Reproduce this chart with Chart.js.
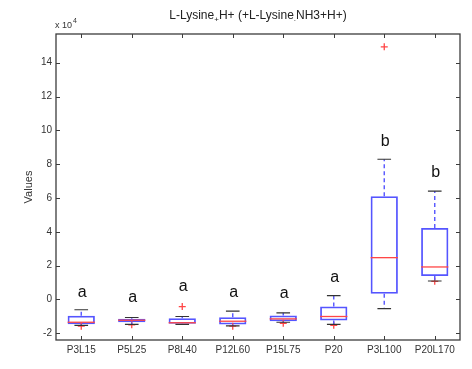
<!DOCTYPE html>
<html>
<head>
<meta charset="utf-8">
<script src="https://cdn.jsdelivr.net/npm/chart.js@4/dist/chart.umd.min.js"></script>
<style>
    html, body { margin: 0; padding: 0; background: #fff; }
    canvas { display: block; }
</style>
</head>
<body>
<canvas id="myBoxChart" width="472" height="369"></canvas>
<script>
// all values in units of 10^4
const groups = ['P3L15', 'P5L25', 'P8L40', 'P12L60', 'P15L75', 'P20', 'P3L100', 'P20L170'];
const whiskerLow  = [-1.54, -1.48, -1.48, -1.56, -1.35, -1.48, -0.55, 1.09];
const q1          = [-1.47, -1.35, -1.44, -1.48, -1.29, -1.25, 0.34, 1.38];
const median      = [-1.35, -1.23, -1.38, -1.29, -1.15, -1.01, 2.47, 1.92];
const q3          = [-0.97, -1.15, -1.11, -1.05, -0.95, -0.42, 6.11, 4.23];
const whiskerHigh = [-0.61, -1.07, -1.01, -0.69, -0.79, 0.22, 8.29, 6.41];
const outliers    = [-1.58, -1.50, -0.42, -1.58, -1.41, -1.53, 14.94, 1.07];
const groupLetters = ['a', 'a', 'a', 'a', 'a', 'a', 'b', 'b'];
const letterY     = [0.15, -0.15, 0.50, 0.14, 0.06, 1.04, 9.05, 7.27];
const yTicks = [-2, 0, 2, 4, 6, 8, 10, 12, 14];

const BLUE = 'rgb(85,85,255)';
const RED = 'rgb(255,70,70)';
const AXIS = '#3c3c3c';
const FONT = '"Liberation Sans", Arial, sans-serif';

// whiskers, caps, medians, frame, inward ticks and the text bits
const boxExtras = {
    id: 'boxExtras',
    afterDatasetsDraw(chart) {
        const ctx = chart.ctx;
        const x = chart.scales.x;
        const y = chart.scales.y;
        const bars = chart.getDatasetMeta(0).data;
        ctx.save();

        groups.forEach((g, i) => {
            const cx = x.getPixelForValue(i);
            const half = bars[i].width / 2;

            // dashed whiskers
            ctx.strokeStyle = BLUE;
            ctx.lineWidth = 1.4;
            ctx.setLineDash([4, 3]);
            ctx.beginPath();
            ctx.moveTo(cx, y.getPixelForValue(q3[i]));
            ctx.lineTo(cx, y.getPixelForValue(whiskerHigh[i]));
            ctx.moveTo(cx, y.getPixelForValue(q1[i]));
            ctx.lineTo(cx, y.getPixelForValue(whiskerLow[i]));
            ctx.stroke();
            ctx.setLineDash([]);

            // caps
            ctx.strokeStyle = '#333';
            ctx.lineWidth = 1.2;
            ctx.beginPath();
            ctx.moveTo(cx - half / 2, y.getPixelForValue(whiskerHigh[i]));
            ctx.lineTo(cx + half / 2, y.getPixelForValue(whiskerHigh[i]));
            ctx.moveTo(cx - half / 2, y.getPixelForValue(whiskerLow[i]));
            ctx.lineTo(cx + half / 2, y.getPixelForValue(whiskerLow[i]));
            ctx.stroke();

            // median
            ctx.strokeStyle = RED;
            ctx.lineWidth = 1.3;
            ctx.beginPath();
            ctx.moveTo(cx - half, y.getPixelForValue(median[i]));
            ctx.lineTo(cx + half, y.getPixelForValue(median[i]));
            ctx.stroke();

            // group letters
            ctx.fillStyle = '#111';
            ctx.font = '16px ' + FONT;
            ctx.textAlign = 'center';
            ctx.textBaseline = 'alphabetic';
            ctx.fillText(groupLetters[i], cx + 1, y.getPixelForValue(letterY[i]));
        });

        // frame + inward ticks
        const a = chart.chartArea;
        ctx.strokeStyle = AXIS;
        ctx.lineWidth = 1.3;
        ctx.strokeRect(a.left, a.top, a.right - a.left, a.bottom - a.top);
        ctx.lineWidth = 1;
        ctx.beginPath();
        yTicks.forEach(v => {
            const py = Math.round(y.getPixelForValue(v)) + 0.5;
            ctx.moveTo(a.left, py); ctx.lineTo(a.left + 4, py);
            ctx.moveTo(a.right, py); ctx.lineTo(a.right - 4, py);
        });
        groups.forEach((g, i) => {
            const px = Math.round(x.getPixelForValue(i)) + 0.5;
            ctx.moveTo(px, a.bottom); ctx.lineTo(px, a.bottom - 4);
            ctx.moveTo(px, a.top); ctx.lineTo(px, a.top + 4);
        });
        ctx.stroke();

        // exponent label
        ctx.fillStyle = '#333';
        ctx.textAlign = 'left';
        ctx.font = '9px ' + FONT;
        ctx.fillText('x 10', a.left - 1, 28);
        ctx.font = '7px ' + FONT;
        ctx.fillText('4', a.left + 17, 23);

        // title with subscripts
        const parts = [
            ['L-Lysine', 12, 0], ['+', 8, 3], ['H+ (+L-Lysine', 12, 0], ['.', 8, 2], ['NH3+H+)', 12, 0]
        ];
        let total = 0;
        parts.forEach(p => { ctx.font = p[1] + 'px ' + FONT; total += ctx.measureText(p[0]).width; });
        let tx = (a.left + a.right) / 2 - total / 2;
        ctx.fillStyle = '#222';
        parts.forEach(p => {
            ctx.font = p[1] + 'px ' + FONT;
            ctx.fillText(p[0], tx, 19 + p[2]);
            tx += ctx.measureText(p[0]).width;
        });
        ctx.restore();
    }
};

new Chart(document.getElementById('myBoxChart'), {
    type: 'bar',
    data: {
        labels: groups,
        datasets: [{
            type: 'bar',
            data: groups.map((g, i) => [q1[i], q3[i]]),
            backgroundColor: 'rgba(0,0,0,0)',
            borderColor: BLUE,
            borderWidth: 1.8,
            borderSkipped: false,
            barPercentage: 0.54,
            categoryPercentage: 1,
            order: 2
        }, {
            type: 'line',
            data: outliers,
            showLine: false,
            pointStyle: 'cross',
            pointRadius: 3.5,
            borderColor: RED,
            borderWidth: 1.3,
            order: 1
        }]
    },
    options: {
        responsive: false,
        animation: false,
        layout: { padding: { top: 34, right: 12, left: 0, bottom: 0 } },
        plugins: {
            legend: { display: false },
            tooltip: { enabled: false }
        },
        scales: {
            x: {
                grid: { display: false, drawTicks: false },
                border: { display: false },
                ticks: { padding: 4, color: '#333', font: { family: FONT, size: 10 } },
                afterFit(s) { s.height = 29; }
            },
            y: {
                min: -2.4,
                max: 15.7,
                afterBuildTicks(s) { s.ticks = yTicks.map(v => ({ value: v })); },
                grid: { display: false, drawTicks: false },
                border: { display: false },
                ticks: { padding: 4, color: '#333', font: { family: FONT, size: 10 } },
                title: {
                    display: true,
                    text: 'Values',
                    color: '#333',
                    font: { family: FONT, size: 11 },
                    padding: { top: 22, bottom: 0 }
                },
                afterFit(s) { s.width = 56; }
            }
        }
    },
    plugins: [boxExtras]
});
</script>
</body>
</html>
